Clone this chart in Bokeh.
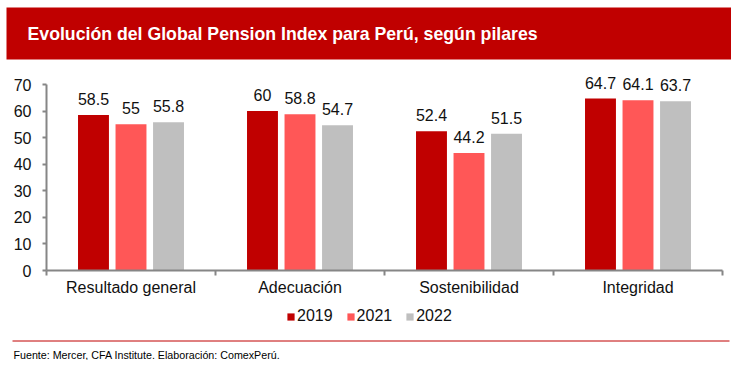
from bokeh.plotting import figure
from bokeh.models import (ColumnDataSource, Range1d, FixedTicker, Legend, LegendItem,
                          LabelSet, BoxAnnotation)
from bokeh.core.properties import value
from bokeh.transform import dodge
from bokeh.embed import file_html
from bokeh.resources import INLINE
import numpy as np

# ---- data ----
title_text = "Evolución del Global Pension Index para Perú, según pilares"
source_text = "Fuente: Mercer, CFA Institute. Elaboración: ComexPerú."
categories = ["Resultado general", "Adecuación", "Sostenibilidad", "Integridad"]
years = ["2019", "2021", "2022"]
v2019 = [58.5, 60, 52.4, 64.7]
v2021 = [55, 58.8, 44.2, 64.1]
v2022 = [55.8, 54.7, 51.5, 63.7]
y_ticks = [0, 10, 20, 30, 40, 50, 60, 70]
y_max = 70

# ---- style / layout ----
FONT = "Liberation Sans"
RED = "#C00000"
COLORS = ["#C00000", "#FF5757", "#BFBFBF"]
AXIS = "#868686"
TXT = "#111111"
W, H = 731, 360
# plot area inside the canvas (pixels from canvas top-left)
PL, PR, PT, PB = 46, 722, 84, 270
n = len(categories)
ux = (PR - PL) / n            # px per category
uy = (PB - PT) / y_max        # px per value unit
x0 = -0.5 - PL / ux
x1 = n - 0.5 + (W - PR) / ux
y1 = PB / uy
y0 = -(H - PB) / uy

def X(px):
    return x0 + px / ux

def Y(py):
    return y1 - py / uy

p = figure(width=W, height=H, x_range=Range1d(x0, x1), y_range=Range1d(y0, y1),
           output_backend="svg", toolbar_location=None, min_border=0,
           outline_line_color=None, background_fill_color="white",
           border_fill_color="white")
p.grid.visible = False

# ---- banner ----
p.add_layout(BoxAnnotation(left=X(6), bottom=Y(59), top=Y(7), fill_color=RED, fill_alpha=1,
                           line_color=None, level="underlay"))
p.text(x=[X(27)], y=[Y(33)], text=[title_text], text_font=value(FONT),
       text_font_style="bold", text_font_size="17.7px", text_color="white",
       text_baseline="middle", text_align="left")

# ---- bars ----
idx = np.arange(n)
src = ColumnDataSource(dict(x=idx, cat=categories,
                            y2019=v2019, y2021=v2021, y2022=v2022,
                            l2019=[f"{v:g}" for v in v2019],
                            l2021=[f"{v:g}" for v in v2021],
                            l2022=[f"{v:g}" for v in v2022]))
offsets = [-0.222, 0.0, 0.222]
items = []
for yr, col, off in zip(years, COLORS, offsets):
    r = p.vbar(x=dodge("x", off, range=p.x_range), top="y" + yr, bottom=0, width=0.183,
               source=src, fill_color=col, line_color=None)
    items.append(LegendItem(label=yr, renderers=[r]))
    p.add_layout(LabelSet(x=dodge("x", off, range=p.x_range), y="y" + yr, text="l" + yr,
                          source=src, text_align="center", text_baseline="alphabetic",
                          y_offset=10, text_font=value(FONT), text_font_size="16px",
                          text_color=TXT))

# ---- axes (placed at data locations) ----
xa = p.xaxis[0]
xa.fixed_location = 0
xa.bounds = (-0.5, n - 0.5)
xa.ticker = FixedTicker(ticks=list(idx), minor_ticks=[i - 0.5 for i in range(n + 1)])
xa.major_label_overrides = {int(i): c for i, c in zip(idx, categories)}
xa.major_tick_out = 0
xa.major_tick_in = 0
xa.minor_tick_out = 5
xa.minor_tick_in = 0
xa.minor_tick_line_color = AXIS
xa.minor_tick_line_width = 2
xa.axis_line_color = AXIS
xa.axis_line_width = 2
xa.major_label_standoff = 3
xa.major_label_text_font = FONT
xa.major_label_text_font_size = "16px"
xa.major_label_text_color = TXT

ya = p.yaxis[0]
ya.fixed_location = -0.5
ya.bounds = (0, y_max)
ya.ticker = FixedTicker(ticks=y_ticks, minor_ticks=[])
ya.major_tick_out = 4
ya.major_tick_in = 0
ya.major_tick_line_color = AXIS
ya.major_tick_line_width = 2
ya.axis_line_color = AXIS
ya.axis_line_width = 2
ya.major_label_standoff = 11
ya.major_label_text_font = FONT
ya.major_label_text_font_size = "16px"
ya.major_label_text_color = TXT

# ---- legend ----
legend = Legend(items=items, orientation="horizontal", location=(286, H - 325),
                glyph_width=9, glyph_height=9, label_standoff=2, spacing=13,
                padding=0, margin=0, border_line_color=None,
                background_fill_alpha=0, label_text_font=FONT,
                label_text_font_size="16px", label_text_color=TXT,
                label_height=16)
p.add_layout(legend)

# ---- footer ----
p.segment(x0=[X(12)], y0=[Y(340.5)], x1=[X(729)], y1=[Y(340.5)], line_color=RED, line_width=1)
p.text(x=[X(13)], y=[Y(354)], text=[source_text], text_font=value(FONT),
       text_font_size="10.7px", text_color="black", text_baseline="middle",
       text_align="left")

open("out.html", "w").write(file_html(p, INLINE))
